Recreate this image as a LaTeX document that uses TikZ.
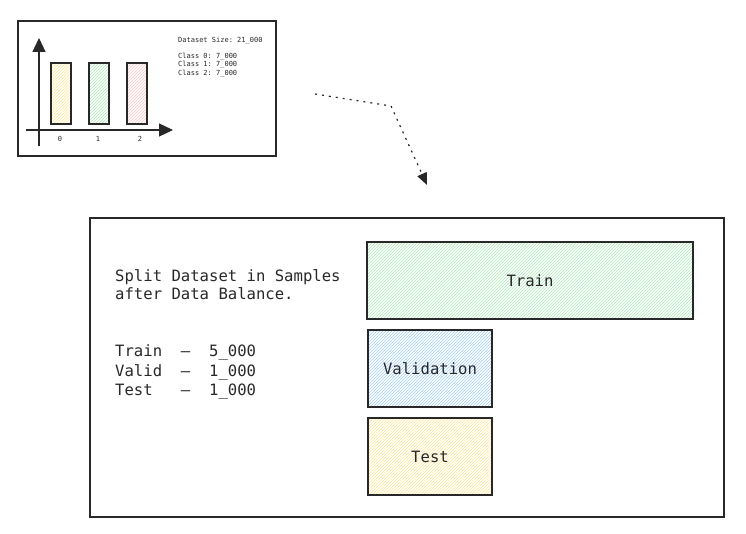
\documentclass[tikz,border=0pt]{standalone}
\usepackage{xcolor}
\usepackage{fontspec}
\setmonofont{DejaVu Sans Mono}
\usepackage{tikz}
\usetikzlibrary{patterns,shapes,arrows,arrows.meta,positioning}

\definecolor{inkgray}{RGB}{40,40,40}
\definecolor{hatchgreen}{RGB}{170,235,180}
\definecolor{hatchblue}{RGB}{160,205,250}
\definecolor{hatchyellow}{RGB}{255,230,150}
\definecolor{hatchred}{RGB}{255,195,195}

\tikzset{
  frame/.style={draw=inkgray,line width=1.2pt},
  bigfont/.style={font=\ttfamily\fontsize{15.6}{18}\selectfont},
  tinyfont/.style={font=\ttfamily\fontsize{7}{8.5}\selectfont},
  splitbox/.style={frame,bigfont,text=inkgray,minimum height=77pt,
    pattern=north east lines,inner sep=0pt},
}

\begin{document}
\begin{tikzpicture}[x=1pt,y=-1pt]
\useasboundingbox (0,0) rectangle (746,534);

% Dataset chart
\node[frame,minimum width=258pt,minimum height=135pt,inner sep=0pt] (chartbox) at (147,88.5) {};
\draw[line width=1.2pt,inkgray,-{Triangle[length=14pt,width=13pt]}] (39,146) -- (39,38);
\draw[line width=1.2pt,inkgray,-{Triangle[length=14pt,width=13pt]}] (26,130) -- (173,130);

% Bars
\foreach \x/\col in {51/hatchyellow,89/hatchgreen,127/hatchred}
  \draw[frame,pattern=north east lines,pattern color=\col] (\x,63) rectangle (\x+20,124);
\foreach \i/\x in {0/60,1/98,2/140}
  \node[tinyfont,text=inkgray] (tick\i) at (\x,139) {\i};

\node[tinyfont,text=inkgray,anchor=base west,inner sep=0pt] (sizetext) at (178,42.5) {Dataset Size: 21\_000};
\node[tinyfont,text=inkgray,anchor=base west,align=left,inner sep=0pt] (classtext) at (178,75.5)
  {Class 0: 7\_000\\Class 1: 7\_000\\Class 2: 7\_000};

% Dotted arrow
\coordinate (arrowstart) at (315,94);
\coordinate (arrowbend) at (391,106);
\coordinate (arrowend) at (427,185);
\draw[line width=1.2pt,inkgray,dash pattern=on 2pt off 5pt,-{Triangle[length=12pt,width=10pt]}]
  (arrowstart) -- (arrowbend) -- (arrowend);

% Split box
\node[frame,minimum width=634pt,minimum height=299pt,inner sep=0pt] (splitframe) at (407,367.5) {};
\node[bigfont,text=inkgray,anchor=base west,align=left,inner sep=0pt] (splittext) at (115,300)
  {Split Dataset in Samples\\after Data Balance.};
\node[bigfont,text=inkgray,anchor=base west,align=left,inner sep=0pt] (counttext) at (115,395.5)
  {Train~~–~~5\_000\\[1.5pt]Valid~~–~~1\_000\\[1.5pt]Test~~~–~~1\_000};

\node[splitbox,pattern color=hatchgreen,minimum width=326pt] (train) at (530,280.5) {Train};
\node[splitbox,pattern color=hatchblue,minimum width=124pt] (valid) at (430,368.5) {Validation};
\node[splitbox,pattern color=hatchyellow,minimum width=124pt] (test) at (430,456.5) {Test};
\end{tikzpicture}
\end{document}
